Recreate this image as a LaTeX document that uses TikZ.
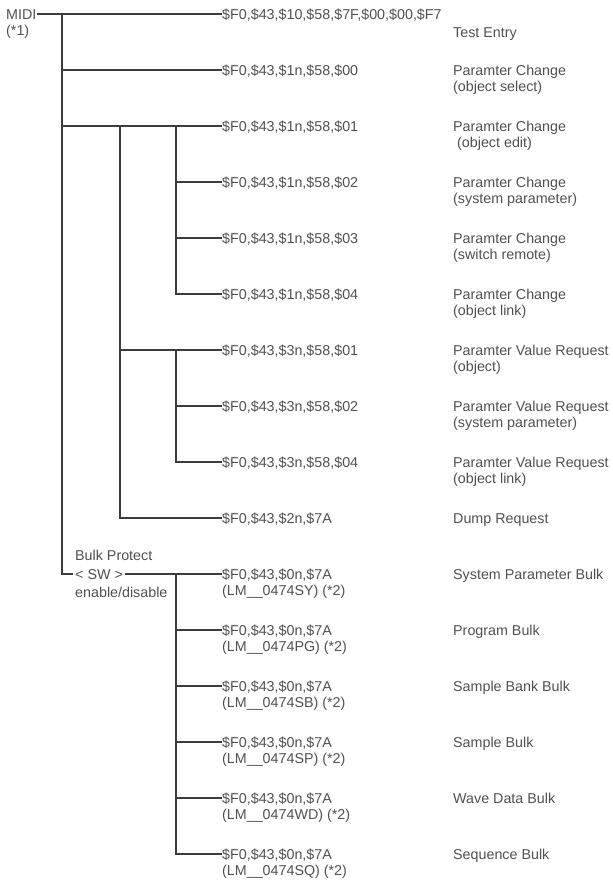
\documentclass[tikz,border=0pt]{standalone}
\usepackage{fontspec}
\setmainfont{Liberation Sans}
\usetikzlibrary{positioning,calc}
\definecolor{wireGrey}{HTML}{3C3C3C}
\definecolor{labelGrey}{HTML}{505050}

\begin{document}
\begin{tikzpicture}[
    x=1pt, y=-1pt,
    hexNode/.style={anchor=west, inner sep=0pt, text height=10pt, text depth=0pt, font=\fontsize{14.3}{16}\selectfont, text=labelGrey},
    subNode/.style={hexNode, below=6pt of #1.south west, anchor=north west},
    descNode/.style={anchor=base west, inner sep=0pt, align=left, font=\fontsize{14.3}{16}\selectfont, text=labelGrey},
    wire/.style={draw=wireGrey, line width=1.3pt}
]
\useasboundingbox (0,0) rectangle (613,881);

% source and bulk switch
\node[hexNode] (midi) at (6,14) {MIDI};
\node[hexNode, below=6pt of midi.south west, anchor=north west] (midinote) {(*1)};
\node[hexNode] (bulkprot) at (75,555) {Bulk Protect};
\node[hexNode, inner xsep=2pt] (sw) at (73,574) {< SW >};
\node[hexNode] (endis) at (75,592) {enable/disable};

% message strings
\node[hexNode] (h0) at (222,14) {\$F0,\$43,\$10,\$58,\$7F,\$00,\$00,\$F7};
\node[hexNode] (h1) at (222,70) {\$F0,\$43,\$1n,\$58,\$00};
\node[hexNode] (h2) at (222,126) {\$F0,\$43,\$1n,\$58,\$01};
\node[hexNode] (h3) at (222,182) {\$F0,\$43,\$1n,\$58,\$02};
\node[hexNode] (h4) at (222,238) {\$F0,\$43,\$1n,\$58,\$03};
\node[hexNode] (h5) at (222,294) {\$F0,\$43,\$1n,\$58,\$04};
\node[hexNode] (h6) at (222,350) {\$F0,\$43,\$3n,\$58,\$01};
\node[hexNode] (h7) at (222,406) {\$F0,\$43,\$3n,\$58,\$02};
\node[hexNode] (h8) at (222,462) {\$F0,\$43,\$3n,\$58,\$04};
\node[hexNode] (h9) at (222,518) {\$F0,\$43,\$2n,\$7A};
\node[hexNode] (h10) at (222,574) {\$F0,\$43,\$0n,\$7A};
\node[hexNode] (h11) at (222,630) {\$F0,\$43,\$0n,\$7A};
\node[hexNode] (h12) at (222,686) {\$F0,\$43,\$0n,\$7A};
\node[hexNode] (h13) at (222,742) {\$F0,\$43,\$0n,\$7A};
\node[hexNode] (h14) at (222,798) {\$F0,\$43,\$0n,\$7A};
\node[hexNode] (h15) at (222,854) {\$F0,\$43,\$0n,\$7A};

\node[subNode=h10] (lm10) {(LM\_\_0474SY) (*2)};
\node[subNode=h11] (lm11) {(LM\_\_0474PG) (*2)};
\node[subNode=h12] (lm12) {(LM\_\_0474SB) (*2)};
\node[subNode=h13] (lm13) {(LM\_\_0474SP) (*2)};
\node[subNode=h14] (lm14) {(LM\_\_0474WD) (*2)};
\node[subNode=h15] (lm15) {(LM\_\_0474SQ) (*2)};

% meanings (base = last line)
\node[descNode] (d0) at (453,37) {Test Entry};
\node[descNode] (d1) at (453,91) {Paramter Change\\(object select)};
\node[descNode] (d2) at (453,147) {Paramter Change\\\ (object edit)};
\node[descNode] (d3) at (453,203) {Paramter Change\\(system parameter)};
\node[descNode] (d4) at (453,259) {Paramter Change\\(switch remote)};
\node[descNode] (d5) at (453,315) {Paramter Change\\(object link)};
\node[descNode] (d6) at (453,371) {Paramter Value Request\\(object)};
\node[descNode] (d7) at (453,427) {Paramter Value Request\\(system parameter)};
\node[descNode] (d8) at (453,483) {Paramter Value Request\\(object link)};
\node[descNode] (d9) at (453,523) {Dump Request};
\node[descNode] (d10) at (453,579) {System Parameter Bulk};
\node[descNode] (d11) at (453,635) {Program Bulk};
\node[descNode] (d12) at (453,691) {Sample Bank Bulk};
\node[descNode] (d13) at (453,747) {Sample Bulk};
\node[descNode] (d14) at (453,803) {Wave Data Bulk};
\node[descNode] (d15) at (453,859) {Sequence Bulk};

% tree
\coordinate (trunk) at (62,14);
\coordinate (fork1) at (120,126);
\coordinate (fork2) at (176,126);

\draw[wire] (midi.east) -- (h0.west);
\draw[wire] (trunk) |- (sw.west);
\draw[wire] (h1.west -| trunk) -- (h1.west);
\draw[wire] (h2.west -| trunk) -- (h2.west);
\draw[wire] (h2.west -| fork1) |- (h9.west);
\draw[wire] (h2.west -| fork2) |- (h5.west);
\draw[wire] (h3.west -| fork2) -- (h3.west);
\draw[wire] (h4.west -| fork2) -- (h4.west);
\draw[wire] (h6.west -| fork1) -- (h6.west);
\draw[wire] (h6.west -| fork2) |- (h8.west);
\draw[wire] (h7.west -| fork2) -- (h7.west);
\draw[wire] (sw.east) -- (h10.west);
\draw[wire] (h10.west -| fork2) |- (h15.west);
\draw[wire] (h11.west -| fork2) -- (h11.west);
\draw[wire] (h12.west -| fork2) -- (h12.west);
\draw[wire] (h13.west -| fork2) -- (h13.west);
\draw[wire] (h14.west -| fork2) -- (h14.west);

\end{tikzpicture}
\end{document}
